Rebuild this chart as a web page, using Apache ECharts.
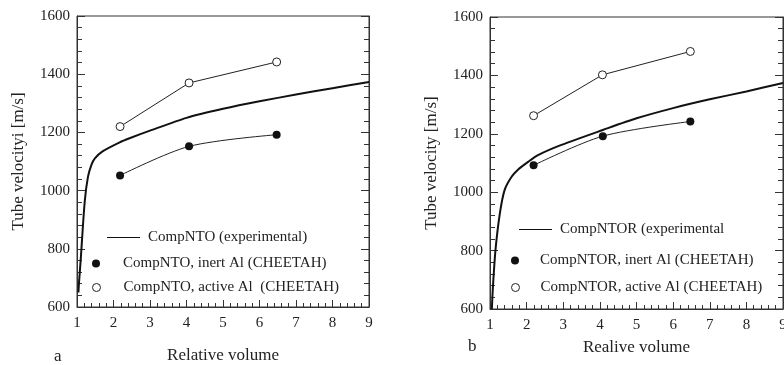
<!DOCTYPE html>
<html>
<head>
<meta charset="utf-8">
<script src="https://cdn.jsdelivr.net/npm/echarts@6/dist/echarts.min.js"></script>
<style>
  html, body { margin: 0; padding: 0; background: #fff; }
  #chart { width: 784px; height: 365px; }
</style>
</head>
<body>
<div id="chart"></div>
<script>
// panel a: CompNTO
const expA = [[1.04, 650], [1.05, 675], [1.1, 760], [1.21, 960], [1.3, 1047], [1.4, 1090], [1.49, 1111],
  [1.7, 1135], [2.17, 1166], [2.44, 1180], [3, 1206], [4, 1250], [5, 1281], [6, 1307], [7, 1330], [8, 1352], [9, 1373]];
const inertA = [[2.18, 1052], [4.07, 1152], [6.47, 1192]];
const activeA = [[2.18, 1220], [4.07, 1370], [6.47, 1442]];

// panel b: CompNTOR
const expB = [[1.05, 600], [1.08, 676], [1.15, 802], [1.27, 928], [1.4, 1008], [1.59, 1053], [1.77, 1078],
  [2.04, 1104], [2.31, 1127], [2.95, 1162], [4.08, 1213], [5, 1253], [6, 1288], [7, 1318], [8, 1345], [9, 1374]];
const inertB = [[2.19, 1092], [4.08, 1192], [6.47, 1242]];
const activeB = [[2.19, 1262], [4.07, 1402], [6.47, 1482]];

const namesA = ["CompNTO (experimental)", "CompNTO, inert Al (CHEETAH)", "CompNTO, active Al  (CHEETAH)"];
const namesB = ["CompNTOR (experimental", "CompNTOR, inert Al (CHEETAH)", "CompNTOR, active Al (CHEETAH)"];
const yTitles = ["Tube velocityi [m/s]", "Tube velocity [m/s]"];
const xTitles = ["Relative volume", "Realive volume"];
const panelLabels = ["a", "b"];

const FONT = "'Liberation Serif', 'DejaVu Serif', serif";
const INK = "#222";

function xAxisFor(grid, gap) {
  return {
    type: "value", gridIndex: grid, min: 1, max: 9, interval: 1,
    name: xTitles[grid], nameLocation: "middle", nameGap: gap,
    nameTextStyle: { color: INK, fontSize: 17, fontFamily: FONT },
    axisLine: { lineStyle: { color: "#333" } },
    axisTick: { inside: true, length: 7, lineStyle: { color: "#333" } },
    minorTick: { show: true, splitNumber: 5, length: 4, lineStyle: { color: "#333" } },
    axisLabel: { color: INK, fontSize: 15, fontFamily: FONT, margin: 9 },
    splitLine: { show: false },
  };
}

function yAxisFor(grid, right) {
  return {
    type: "value", gridIndex: grid, min: 600, max: 1600, interval: 200,
    position: right ? "right" : "left",
    name: right ? "" : yTitles[grid], nameLocation: "middle", nameGap: 50,
    nameTextStyle: { color: INK, fontSize: 17, fontFamily: FONT },
    axisLine: { show: true, lineStyle: { color: "#333" } },
    axisTick: { show: true, inside: true, length: 8, lineStyle: { color: "#333" } },
    minorTick: { show: true, splitNumber: 5, length: 5, lineStyle: { color: "#333" } },
    axisLabel: { show: !right, color: INK, fontSize: 15, fontFamily: FONT, margin: 7, formatter: (v) => String(v) },
    splitLine: { show: false },
  };
}

function seriesFor(grid, names, exp, inert, active) {
  const yi = grid * 2;
  return [
    {
      name: names[0], type: "line", xAxisIndex: grid, yAxisIndex: yi, data: exp,
      smooth: 0.25, symbol: "none", lineStyle: { color: "#111", width: 2 }, itemStyle: { color: "#111" }, z: 3,
    },
    {
      name: names[1], type: "line", xAxisIndex: grid, yAxisIndex: yi, data: inert,
      smooth: 0.3, symbol: "circle", symbolSize: 8,
      itemStyle: { color: "#111" }, lineStyle: { color: "#222", width: 1 },
    },
    {
      name: names[2], type: "line", xAxisIndex: grid, yAxisIndex: yi, data: active,
      symbol: "circle", symbolSize: 8,
      itemStyle: { color: "#fff", borderColor: "#222", borderWidth: 1 },
      lineStyle: { color: "#222", width: 1 },
    },
  ];
}

function legendsFor(names, lineLeft, markLeft, tops, lineGap, markGap, fontSize) {
  const ts = { color: INK, fontSize: fontSize, fontFamily: FONT };
  return [
    {
      left: lineLeft, top: tops[0], padding: 0, itemWidth: 33, itemHeight: 1,
      data: [{ name: names[0], icon: "rect", itemStyle: { color: "#111", borderWidth: 0 } }],
      textStyle: Object.assign({ padding: [0, 0, 0, lineGap] }, ts),
    },
    {
      left: markLeft, top: tops[1], padding: 0, itemWidth: 8, itemHeight: 8,
      data: [{ name: names[1], icon: "circle", itemStyle: { color: "#111", borderWidth: 0 } }],
      textStyle: Object.assign({ padding: [0, 0, 0, markGap] }, ts),
    },
    {
      left: markLeft, top: tops[2], padding: 0, itemWidth: 8, itemHeight: 8,
      data: [{ name: names[2], icon: "circle", itemStyle: { color: "#fff", borderColor: "#222", borderWidth: 1 } }],
      textStyle: Object.assign({ padding: [0, 0, 0, markGap] }, ts),
    },
  ];
}

const chart = echarts.init(document.getElementById("chart"), null, { renderer: "canvas" });

chart.setOption({
  animation: false,
  backgroundColor: "#fff",
  grid: [
    { left: 77, top: 16, width: 292, height: 291, show: true, borderColor: "#333", borderWidth: 1, outerBoundsMode: "none" },
    { left: 490, top: 17, width: 293, height: 292, show: true, borderColor: "#333", borderWidth: 1, outerBoundsMode: "none" },
  ],
  xAxis: [xAxisFor(0, 40), xAxisFor(1, 30)],
  yAxis: [yAxisFor(0, false), yAxisFor(0, true), yAxisFor(1, false), yAxisFor(1, true)],
  legend: [
    ...legendsFor(namesA, 107, 92, [230, 256, 280], 3, 18, 15),
    ...legendsFor(namesB, 519, 511, [222, 253, 280], 3, 16, 15),
  ],
  graphic: [
    { type: "text", left: 54, top: 348, style: { text: panelLabels[0], fill: INK, font: "17px " + FONT } },
    { type: "text", left: 468, top: 338, style: { text: panelLabels[1], fill: INK, font: "17px " + FONT } },
  ],
  series: [
    ...seriesFor(0, namesA, expA, inertA, activeA),
    ...seriesFor(1, namesB, expB, inertB, activeB),
  ],
});
</script>
</body>
</html>
